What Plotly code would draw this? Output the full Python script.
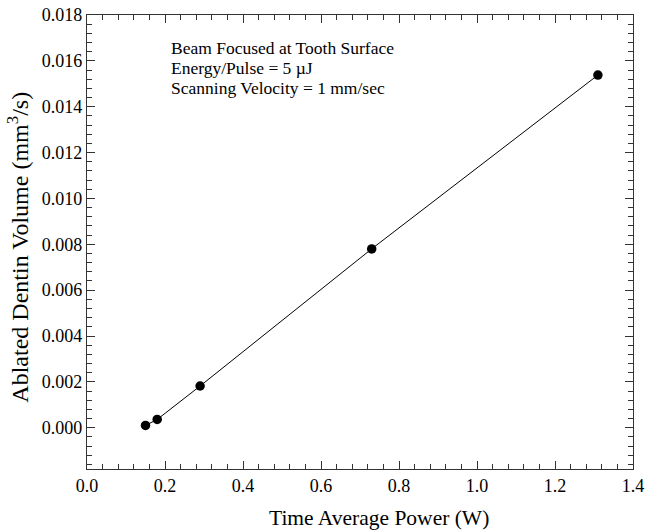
import plotly.graph_objects as go

power_w = [0.15, 0.18, 0.29, 0.73, 1.31]
volume_mm3s = [0.0001, 0.00036, 0.00182, 0.0078, 0.01538]

x_ticks = [0.0, 0.2, 0.4, 0.6, 0.8, 1.0, 1.2, 1.4]
y_ticks = [0.000, 0.002, 0.004, 0.006, 0.008, 0.010, 0.012, 0.014, 0.016, 0.018]

x_title = "Time Average Power (W)"
y_title = "Ablated Dentin Volume (mm<sup>3</sup>/s)"
annotation_lines = ["Beam Focused at Tooth Surface", "Energy/Pulse = 5 \u00b5J", "Scanning Velocity = 1 mm/sec"]

FONT = "Liberation Serif, Times New Roman, serif"

fig = go.Figure()
fig.add_trace(go.Scatter(
    x=power_w, y=volume_mm3s, mode="lines+markers",
    line=dict(color="black", width=1),
    marker=dict(color="black", size=9.5),
    showlegend=False, hoverinfo="skip",
))

axis_common = dict(
    showgrid=False, zeroline=False, showline=True, linecolor="#333", linewidth=1.2,
    mirror="allticks", ticks="inside", tickcolor="#333", tickwidth=1.2,
    tickfont=dict(family=FONT, size=18, color="black"),
    automargin=False,
)

fig.update_xaxes(
    range=[0, 1.4], tickvals=x_ticks, ticktext=[f"{v:.1f}" for v in x_ticks],
    ticklen=8,
    minor=dict(dtick=0.04, tick0=0, ticklen=5, ticks="inside", tickcolor="#333", tickwidth=1.2),
    **axis_common,
)
fig.update_yaxes(
    range=[-0.0018, 0.018], tickvals=y_ticks, ticktext=[f"{v:.3f}" for v in y_ticks],
    ticklen=8,
    minor=dict(dtick=0.0004, tick0=0, ticklen=5, ticks="inside", tickcolor="#333", tickwidth=1.2),
    **axis_common,
)

# axis titles (placed as annotations to match the reference's offsets)
fig.add_annotation(
    x=0.535, y=-0.108, xref="paper", yref="paper", xanchor="center", yanchor="middle",
    text=x_title, showarrow=False, font=dict(family=FONT, size=21.5, color="black"),
)
fig.add_annotation(
    x=-0.126, y=0.488, xref="paper", yref="paper", xanchor="center", yanchor="middle",
    text=y_title, showarrow=False, textangle=-90,
    font=dict(family=FONT, size=24, color="black"),
)

line_y = [0.927, 0.883, 0.839]
for txt, yy in zip(annotation_lines, line_y):
    fig.add_annotation(
        x=0.151, y=yy, xref="paper", yref="paper", xanchor="left", yanchor="middle",
        text=txt, showarrow=False, align="left",
        font=dict(family=FONT, size=17.5, color="black"),
    )

fig.update_layout(
    width=646, height=530,
    margin=dict(l=87, r=13, t=15, b=61),
    paper_bgcolor="white", plot_bgcolor="white",
    font=dict(family=FONT, color="black"),
)

fig.write_html(
    "out.html",
    config={"displayModeBar": False},
    post_script="document.body.style.margin='0';document.body.style.overflow='hidden';",
)
